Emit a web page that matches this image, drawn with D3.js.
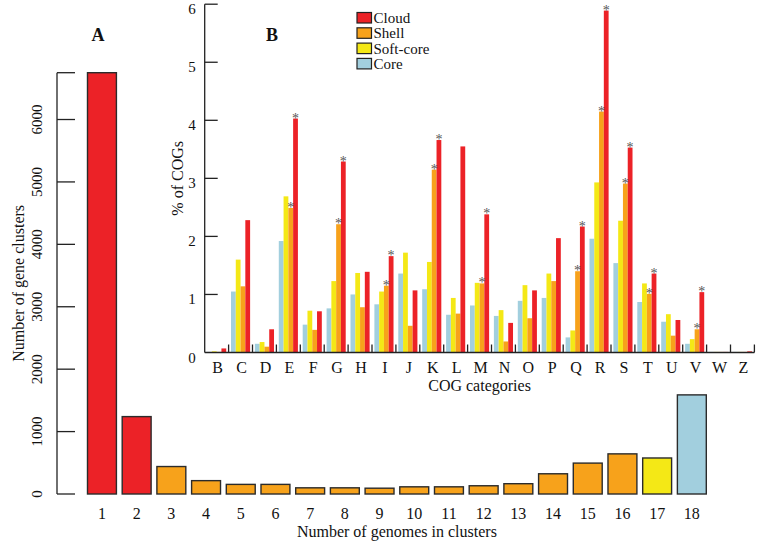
<!DOCTYPE html>
<html>
<head>
<meta charset="utf-8">
<script src="https://cdn.jsdelivr.net/npm/d3@7"></script>
<style>
  html, body { margin: 0; padding: 0; background: #fff; }
  svg { display: block; }
</style>
</head>
<body>
<svg id="chart" width="759" height="544" font-family="'Liberation Serif', 'Times New Roman', 'DejaVu Serif', serif"></svg>
<script>
// ---------- Panel A data ----------
const genomeCounts = ["1","2","3","4","5","6","7","8","9","10","11","12","13","14","15","16","17","18"];
const clusterCounts = [6750, 1240, 440, 214, 154, 154, 99, 99, 93, 115, 115, 132, 165, 324, 495, 643, 577, 1588];
const clusterClass = ["Cloud","Cloud","Shell","Shell","Shell","Shell","Shell","Shell","Shell","Shell","Shell","Shell","Shell","Shell","Shell","Shell","Soft-core","Core"];
const ticksA = [0, 1000, 2000, 3000, 4000, 5000, 6000];
const axisTopA = 6750;

// ---------- Panel B data ----------
const cogCategories = ["B","C","D","E","F","G","H","I","J","K","L","M","N","O","P","Q","R","S","T","U","V","W","Z"];
const seriesNames = ["Core","Soft-core","Shell","Cloud"];
const coreVals  = [0.01,1.05,0.15,1.92,0.48,0.76,1.00,0.83,1.36,1.09,0.65,0.81,0.63,0.89,0.94,0.26,1.96,1.54,0.87,0.53,0.15,0.01,0.01];
const softVals  = [0.02,1.60,0.18,2.69,0.72,1.23,1.37,1.05,1.72,1.56,0.94,1.20,0.73,1.16,1.36,0.38,2.93,2.27,1.19,0.66,0.23,0.01,0.01];
const shellVals = [0.01,1.14,0.10,2.49,0.39,2.21,0.78,1.15,0.46,3.15,0.67,1.19,0.19,0.59,1.23,1.40,4.15,2.91,1.01,0.29,0.40,0.01,0.01];
const cloudVals = [0.07,2.28,0.40,4.03,0.71,3.29,1.39,1.66,1.07,3.66,3.55,2.38,0.51,1.07,1.97,2.17,5.89,3.53,1.36,0.56,1.04,0.01,0.02];
const shellSignificant = ["E","G","I","K","M","Q","R","S","T","V"];
const cloudSignificant = ["E","G","I","K","M","Q","R","S","T","V"];
const ticksB = [0, 1, 2, 3, 4, 5, 6];
const legendOrder = ["Cloud","Shell","Soft-core","Core"];

const colors = { "Cloud": "#EC2227", "Shell": "#F7A21B", "Soft-core": "#F4E816", "Core": "#A2CFDE" };
const ink = "#111";

const svg = d3.select("#chart");

// ================= Panel A =================
const xA = d3.scaleBand().domain(genomeCounts).range([87.5, 706.3]).paddingInner(1/6).paddingOuter(0);
const yA = d3.scaleLinear().domain([0, axisTopA]).range([494, 72.7]);
const axisXA = 57;

const gA = svg.append("g");
gA.selectAll("rect.barA")
  .data(genomeCounts.map((g, i) => ({ g, v: clusterCounts[i], c: clusterClass[i] })))
  .join("rect")
  .attr("class", "barA")
  .attr("x", d => xA(d.g))
  .attr("width", xA.bandwidth())
  .attr("y", d => yA(d.v))
  .attr("height", d => yA(0) - yA(d.v))
  .attr("fill", d => colors[d.c])
  .attr("stroke", "#2b2b2b")
  .attr("stroke-width", 1.4);

// y axis A (R-style, ticks pointing inward)
gA.append("line")
  .attr("x1", axisXA).attr("x2", axisXA)
  .attr("y1", yA(0)).attr("y2", yA(axisTopA))
  .attr("stroke", "#222").attr("stroke-width", 1.3);
gA.selectAll("line.tickA")
  .data(ticksA.concat([axisTopA]))
  .join("line")
  .attr("class", "tickA")
  .attr("x1", axisXA).attr("x2", axisXA + 18)
  .attr("y1", d => yA(d)).attr("y2", d => yA(d))
  .attr("stroke", "#222").attr("stroke-width", 1.3);
gA.selectAll("text.tickLabA")
  .data(ticksA)
  .join("text")
  .attr("class", "tickLabA")
  .attr("transform", d => `translate(42,${yA(d)}) rotate(-90)`)
  .attr("text-anchor", "middle")
  .attr("font-size", 15)
  .attr("fill", ink)
  .text(d => d);
gA.append("text")
  .attr("transform", `translate(24,${(yA(0) + yA(axisTopA)) / 2}) rotate(-90)`)
  .attr("text-anchor", "middle")
  .attr("font-size", 16)
  .attr("fill", ink)
  .text("Number of gene clusters");

// x labels A
gA.selectAll("text.xLabA")
  .data(genomeCounts)
  .join("text")
  .attr("class", "xLabA")
  .attr("x", d => xA(d) + xA.bandwidth() / 2)
  .attr("y", 519)
  .attr("text-anchor", "middle")
  .attr("font-size", 16)
  .attr("fill", ink)
  .text(d => d);
gA.append("text")
  .attr("x", (xA.range()[0] + xA.range()[1]) / 2)
  .attr("y", 537)
  .attr("text-anchor", "middle")
  .attr("font-size", 16)
  .attr("fill", ink)
  .text("Number of genomes in clusters");

gA.append("text")
  .attr("x", 98).attr("y", 41)
  .attr("text-anchor", "middle")
  .attr("font-size", 18).attr("font-weight", "bold")
  .attr("fill", ink)
  .text("A");

// ================= Panel B =================
const xB = d3.scaleBand().domain(cogCategories).range([204.7, 754.4]).paddingInner(0.2).paddingOuter(0.1);
const xSeries = d3.scaleBand().domain(seriesNames).range([0, xB.bandwidth()]).padding(0);
const yB = d3.scaleLinear().domain([0, 6]).range([352.5, 4.2]);
const axisXB = 204.7;

const valuesBySeries = { "Core": coreVals, "Soft-core": softVals, "Shell": shellVals, "Cloud": cloudVals };
const sigBySeries = { "Shell": shellSignificant, "Cloud": cloudSignificant };

const cells = [];
cogCategories.forEach((cat, i) => {
  seriesNames.forEach(s => {
    cells.push({ cat, s, v: valuesBySeries[s][i], sig: (sigBySeries[s] || []).includes(cat) });
  });
});

const gB = svg.append("g");
gB.selectAll("rect.barB")
  .data(cells)
  .join("rect")
  .attr("class", "barB")
  .attr("x", d => xB(d.cat) + xSeries(d.s))
  .attr("width", xSeries.bandwidth())
  .attr("y", d => yB(d.v))
  .attr("height", d => yB(0) - yB(d.v))
  .attr("fill", d => colors[d.s]);

gB.selectAll("text.star")
  .data(cells.filter(d => d.sig))
  .join("text")
  .attr("class", "star")
  .attr("x", d => xB(d.cat) + xSeries(d.s) + xSeries.bandwidth() / 2)
  .attr("y", d => yB(d.v) + 4)
  .attr("text-anchor", "middle")
  .attr("font-size", 14)
  .attr("fill", "#555")
  .text("*");

// axes B
const step = xB.step();
const bEnd = xB.range()[1];
gB.append("line")
  .attr("x1", axisXB).attr("x2", axisXB)
  .attr("y1", yB(0)).attr("y2", yB(6))
  .attr("stroke", "#222").attr("stroke-width", 1.3);
gB.append("line")
  .attr("x1", axisXB).attr("x2", bEnd)
  .attr("y1", yB(0)).attr("y2", yB(0))
  .attr("stroke", "#222").attr("stroke-width", 1.3);
gB.selectAll("line.tickBy")
  .data(ticksB.filter(d => d > 0))
  .join("line")
  .attr("class", "tickBy")
  .attr("x1", axisXB).attr("x2", axisXB + 13)
  .attr("y1", d => yB(d)).attr("y2", d => yB(d))
  .attr("stroke", "#222").attr("stroke-width", 1.3);
gB.selectAll("text.tickLabBy")
  .data(ticksB)
  .join("text")
  .attr("class", "tickLabBy")
  .attr("x", 192)
  .attr("y", d => yB(d) + 10)
  .attr("text-anchor", "middle")
  .attr("font-size", 15)
  .attr("fill", ink)
  .text(d => d);
gB.selectAll("line.tickBx")
  .data(cogCategories)
  .join("line")
  .attr("class", "tickBx")
  .attr("x1", d => xB(d) + xB.bandwidth() + (step - xB.bandwidth()) / 2)
  .attr("x2", d => xB(d) + xB.bandwidth() + (step - xB.bandwidth()) / 2)
  .attr("y1", yB(0)).attr("y2", yB(0) - 8)
  .attr("stroke", "#222").attr("stroke-width", 1.3);
gB.selectAll("text.xLabB")
  .data(cogCategories)
  .join("text")
  .attr("class", "xLabB")
  .attr("x", d => xB(d) + xB.bandwidth() / 2 + 1)
  .attr("y", 373)
  .attr("text-anchor", "middle")
  .attr("font-size", 16)
  .attr("fill", ink)
  .text(d => d);
gB.append("text")
  .attr("x", (xB.range()[0] + xB.range()[1]) / 2)
  .attr("y", 391)
  .attr("text-anchor", "middle")
  .attr("font-size", 16)
  .attr("fill", ink)
  .text("COG categories");
gB.append("text")
  .attr("transform", `translate(183,${yB(3)}) rotate(-90)`)
  .attr("text-anchor", "middle")
  .attr("font-size", 16)
  .attr("fill", ink)
  .text("% of COGs");

gB.append("text")
  .attr("x", 272).attr("y", 41)
  .attr("text-anchor", "middle")
  .attr("font-size", 18).attr("font-weight", "bold")
  .attr("fill", ink)
  .text("B");

// legend
const leg = gB.selectAll("g.leg")
  .data(legendOrder)
  .join("g")
  .attr("class", "leg")
  .attr("transform", (d, i) => `translate(357,${12.5 + i * 15.3})`);
leg.append("rect")
  .attr("width", 14.5).attr("height", 10.5)
  .attr("fill", d => colors[d])
  .attr("stroke", "#222").attr("stroke-width", 1.2);
leg.append("text")
  .attr("x", 16.5).attr("y", 10.5)
  .attr("font-size", 15)
  .attr("fill", ink)
  .text(d => d);
</script>
</body>
</html>
